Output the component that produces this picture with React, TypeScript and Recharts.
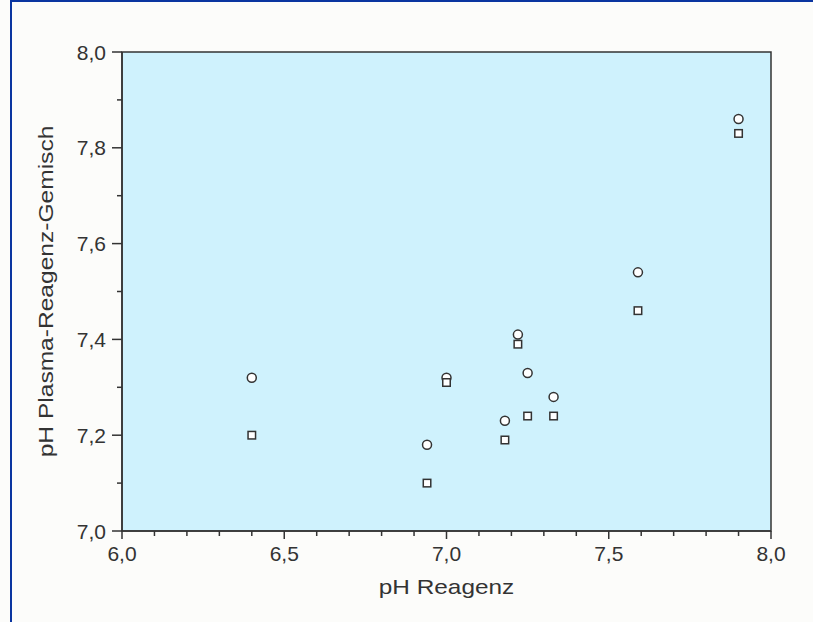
import React from 'react';
import { ScatterChart, Scatter, XAxis, YAxis, ReferenceArea } from 'recharts';

const phReagenz = [6.4, 6.94, 7.0, 7.18, 7.22, 7.25, 7.33, 7.59, 7.9];
const circleValues = [7.32, 7.18, 7.32, 7.23, 7.41, 7.33, 7.28, 7.54, 7.86];
const squareValues = [7.2, 7.1, 7.31, 7.19, 7.39, 7.24, 7.24, 7.46, 7.83];

const xTicks = [6.0, 6.1, 6.2, 6.3, 6.4, 6.5, 6.6, 6.7, 6.8, 6.9, 7.0, 7.1, 7.2, 7.3, 7.4, 7.5, 7.6, 7.7, 7.8, 7.9, 8.0];
const yTicks = [7.0, 7.1, 7.2, 7.3, 7.4, 7.5, 7.6, 7.7, 7.8, 7.9, 8.0];

const xTitle = 'pH Reagenz';
const yTitle = 'pH Plasma-Reagenz-Gemisch';

const circleData = phReagenz.map((x, i) => ({ x, y: circleValues[i] }));
const squareData = phReagenz.map((x, i) => ({ x, y: squareValues[i] }));

const FONT = '"Liberation Sans", Arial, Helvetica, sans-serif';
const INK = '#333333';
const fmt = (v: number) => v.toFixed(1).replace('.', ',');

const XTick = (props: any) => {
  const { x, y, payload } = props;
  const v = payload.value;
  const major = Math.abs(v * 2 - Math.round(v * 2)) < 1e-6;
  if (!major) return null;
  return (
    <g>
      <line x1={x} y1={y} x2={x} y2={y + 3} stroke={INK} strokeWidth={1.5} />
      <text x={x} y={y + 25} textAnchor="middle" fontFamily={FONT} fontSize={21} fill={INK}>
        {fmt(v)}
      </text>
    </g>
  );
};

const YTick = (props: any) => {
  const { x, y, payload } = props;
  const v = payload.value;
  const major = Math.abs(v * 5 - Math.round(v * 5)) < 1e-6;
  if (!major) return null;
  return (
    <g>
      <line x1={x} y1={y} x2={x - 5} y2={y} stroke={INK} strokeWidth={1.5} />
      <text x={x - 11} y={y + 7.5} textAnchor="end" fontFamily={FONT} fontSize={21} fill={INK}>
        {fmt(v)}
      </text>
    </g>
  );
};

const CircleShape = (p: any) => (
  <circle cx={p.cx} cy={p.cy} r={4.5} fill="#ffffff" stroke={INK} strokeWidth={1.5} />
);
const SquareShape = (p: any) => (
  <rect x={p.cx - 3.75} y={p.cy - 3.75} width={7.5} height={7.5} fill="#ffffff" stroke={INK} strokeWidth={1.5} />
);

const XLabel = (props: any) => {
  const vb = props.viewBox || { x: 122, width: 649, y: 531 };
  const cx = vb.x + vb.width / 2;
  const cy = vb.y + 63;
  return (
    <text transform={`translate(${cx}, ${cy}) scale(1.16, 1)`} x={0} y={0} textAnchor="middle" fontFamily={FONT} fontSize={21} fill={INK}>
      {xTitle}
    </text>
  );
};

const YLabel = (props: any) => {
  const vb = props.viewBox || { x: 62, y: 52, height: 479 };
  const cx = vb.x - 9;
  const cy = vb.y + vb.height / 2;
  return (
    <text transform={`translate(${cx}, ${cy}) rotate(-90) scale(1.17, 1)`} x={0} y={0} textAnchor="middle" fontFamily={FONT} fontSize={21} fill={INK}>
      {yTitle}
    </text>
  );
};

export default function App() {
  return (
    <div style={{ position: 'absolute', left: 0, top: 0, width: 813, height: 622, background: '#fcfcfa', overflow: 'hidden' }}>
      <div style={{ position: 'absolute', left: 10, top: 0, width: 803, height: 622, borderTop: '2px solid #0a35a0', borderLeft: '2px solid #0a35a0', boxSizing: 'border-box' }} />
      <div style={{ position: 'absolute', left: 0, top: 0 }}>
        <ScatterChart width={813} height={622} margin={{ top: 52, right: 42, bottom: 51, left: 62 }}>
          <XAxis
            type="number"
            dataKey="x"
            domain={[6, 8]}
            ticks={xTicks}
            interval={0}
            tickSize={5}
            tickMargin={0}
            height={40}
            tick={<XTick />}
            tickLine={{ stroke: INK, strokeWidth: 1.5 }}
            axisLine={{ stroke: INK, strokeWidth: 1.5 }}
            allowDataOverflow
            label={<XLabel />}
          />
          <YAxis
            type="number"
            dataKey="y"
            domain={[7, 8]}
            ticks={yTicks}
            interval={0}
            tickSize={5}
            tickMargin={0}
            width={60}
            tick={<YTick />}
            tickLine={{ stroke: INK, strokeWidth: 1.5 }}
            axisLine={{ stroke: INK, strokeWidth: 1.5 }}
            allowDataOverflow
            label={<YLabel />}
          />
          <ReferenceArea x1={6} x2={8} y1={7} y2={8} fill="#cff2fd" fillOpacity={1} stroke={INK} strokeWidth={1.5} ifOverflow="visible" />
          <Scatter data={circleData} shape={<CircleShape />} isAnimationActive={false} />
          <Scatter data={squareData} shape={<SquareShape />} isAnimationActive={false} />
        </ScatterChart>
      </div>
    </div>
  );
}
